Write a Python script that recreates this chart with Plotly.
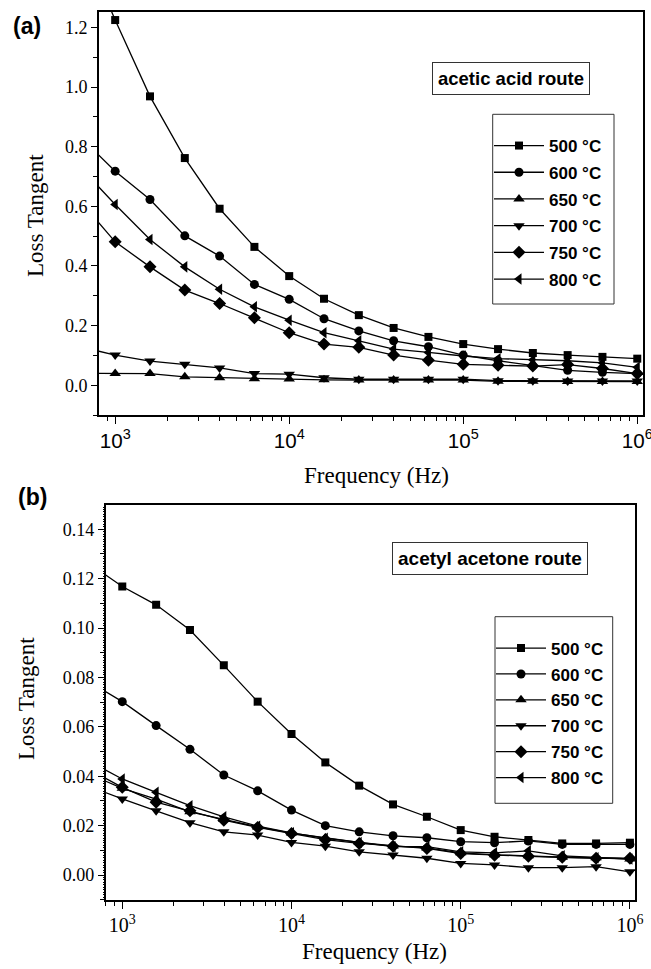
import plotly.graph_objects as go

W, H = 651, 969

freq = [631, 1000, 1585, 2512, 3981, 6310, 10000, 15849, 25119, 39811, 63096,
        100000, 158489, 251189, 398107, 630957, 1000000]

labels = ["500 °C", "600 °C", "650 °C", "700 °C", "750 °C", "800 °C"]
symbols = ["square", "circle", "triangle-up", "triangle-down", "diamond", "triangle-left"]
msizes = [8, 9, 10, 10, 10, 10]

# (a) acetic acid route
a500 = [1.50, 1.225, 0.969, 0.762, 0.592, 0.464, 0.366, 0.290, 0.235, 0.192, 0.162, 0.138, 0.121, 0.108, 0.101, 0.095, 0.089]
a600 = [0.832, 0.718, 0.623, 0.501, 0.433, 0.338, 0.288, 0.223, 0.182, 0.149, 0.129, 0.101, 0.082, 0.065, 0.050, 0.043, 0.039]
a650 = [0.040, 0.039, 0.039, 0.028, 0.025, 0.022, 0.021, 0.018, 0.017, 0.017, 0.017, 0.017, 0.013, 0.013, 0.012, 0.012, 0.012]
a700 = [0.129, 0.101, 0.081, 0.070, 0.058, 0.039, 0.037, 0.025, 0.020, 0.020, 0.020, 0.020, 0.015, 0.015, 0.014, 0.014, 0.014]
a750 = [0.617, 0.481, 0.397, 0.319, 0.274, 0.226, 0.176, 0.138, 0.127, 0.101, 0.084, 0.070, 0.067, 0.064, 0.069, 0.056, 0.039]
a800 = [0.731, 0.606, 0.489, 0.397, 0.322, 0.263, 0.218, 0.176, 0.149, 0.121, 0.110, 0.098, 0.089, 0.085, 0.082, 0.075, 0.060]

# (b) acetyl acetone route
b500 = [0.1264, 0.1168, 0.1094, 0.0992, 0.0849, 0.0702, 0.0571, 0.0456, 0.0362, 0.0286, 0.0236, 0.0182, 0.0155, 0.0142, 0.0128, 0.0128, 0.0131]
b600 = [0.0784, 0.0702, 0.0605, 0.0509, 0.0405, 0.0341, 0.0263, 0.0200, 0.0175, 0.0159, 0.0151, 0.0135, 0.0131, 0.0138, 0.0124, 0.0124, 0.0124]
b650 = [0.0410, 0.0351, 0.0307, 0.0256, 0.0225, 0.0195, 0.0170, 0.0150, 0.0132, 0.0118, 0.0110, 0.0090, 0.0082, 0.0078, 0.0072, 0.0070, 0.0065]
b700 = [0.0360, 0.0308, 0.0260, 0.0212, 0.0175, 0.0162, 0.0132, 0.0117, 0.0094, 0.0081, 0.0068, 0.0047, 0.0041, 0.0030, 0.0030, 0.0034, 0.0013]
b750 = [0.0430, 0.0355, 0.0295, 0.0260, 0.0222, 0.0193, 0.0168, 0.0143, 0.0128, 0.0117, 0.0108, 0.0087, 0.0080, 0.0076, 0.0072, 0.0068, 0.0068]
b800 = [0.0462, 0.0389, 0.0335, 0.0281, 0.0236, 0.0198, 0.0171, 0.0149, 0.0132, 0.0115, 0.0115, 0.0094, 0.0090, 0.0098, 0.0078, 0.0070, 0.0065]

series_a = [a500, a600, a650, a700, a750, a800]
series_b = [b500, b600, b650, b700, b750, b800]

# minor tick positions on the log frequency axis (2..9 x each decade)
minor_x = [m * 10 ** e for e in range(2, 7) for m in range(2, 10)]

XR_A = [2.907, 6.033]
XR_B = [2.902, 6.030]
YR_A = [-0.1, 1.252]
YR_B = [-0.0101, 0.1497]


def px(x):
    return x / W


def py(y):
    return 1 - y / H


fig = go.Figure()
for i, ys in enumerate(series_a):
    fig.add_trace(go.Scatter(
        x=freq, y=ys, name=labels[i], mode="lines+markers",
        line=dict(color="black", width=1.3),
        marker=dict(symbol=symbols[i], size=msizes[i], color="black"),
        xaxis="x", yaxis="y", legend="legend", legendgroup="a%d" % i))
for i, ys in enumerate(series_b):
    fig.add_trace(go.Scatter(
        x=freq, y=ys, name=labels[i], mode="lines+markers",
        line=dict(color="black", width=1.3),
        marker=dict(symbol=symbols[i], size=msizes[i], color="black"),
        xaxis="x2", yaxis="y2", legend="legend2", legendgroup="b%d" % i))

# invisible helper traces so the overlay tick-only axes get drawn
for xa, ya in [("x3", "y"), ("x4", "y2"), ("x2", "y3")]:
    fig.add_trace(go.Scatter(x=[1000], y=[0], xaxis=xa, yaxis=ya, mode="markers",
                             marker=dict(opacity=0), showlegend=False, hoverinfo="skip"))

serif = "Liberation Serif, Times New Roman, serif"
sans = "Liberation Sans, Arial, sans-serif"

common_x = dict(type="log", dtick=1, exponentformat="power", showline=True,
                linecolor="black", linewidth=1.6, mirror=True, ticks="outside",
                ticklen=7, tickwidth=1.4, tickcolor="black", showgrid=False,
                zeroline=False, automargin=False, ticklabeloverflow="allow")
minor_axis = dict(type="log", tickmode="array", tickvals=minor_x, showticklabels=False,
                  ticks="outside", ticklen=4.5, tickwidth=1.3, tickcolor="black",
                  showline=False, showgrid=False, zeroline=False, automargin=False,
                  side="bottom")
common_y = dict(showline=True, linecolor="black", linewidth=1.6, mirror=True,
                ticks="outside", ticklen=6, tickwidth=1.4, tickcolor="black",
                showgrid=False, zeroline=False, automargin=False,
                ticklabeloverflow="allow",
                tickfont=dict(family=serif, size=18, color="black"))

fig.update_layout(
    width=W, height=H, margin=dict(l=0, r=0, t=0, b=0),
    paper_bgcolor="white", plot_bgcolor="white",
    xaxis=dict(common_x, domain=[px(99), px(643)], range=XR_A, anchor="y",
               tickfont=dict(family=sans, size=16.5, color="black")),
    xaxis3=dict(minor_axis, domain=[px(99), px(643)], range=XR_A, anchor="y",
                overlaying="x"),
    yaxis=dict(common_y, domain=[py(415), py(12)], range=YR_A, anchor="x",
               dtick=0.2, tick0=0, tickformat=".1f",
               minor=dict(ticks="outside", ticklen=4, tickwidth=1.3, tickcolor="black",
                          dtick=0.1, tick0=0, showgrid=False)),
    xaxis2=dict(common_x, domain=[px(105.7), px(635)], range=XR_B, anchor="y2",
                tickfont=dict(family=serif, size=16, color="black")),
    xaxis4=dict(minor_axis, domain=[px(105.7), px(635)], range=XR_B, anchor="y2",
                overlaying="x2"),
    yaxis2=dict(common_y, domain=[py(900), py(505.3)], range=YR_B, anchor="x2",
                dtick=0.02, tick0=0, tickformat=".2f",
                minor=dict(ticks="outside", ticklen=4, tickwidth=1.3, tickcolor="black",
                           dtick=0.01, tick0=0, showgrid=False)),
    yaxis3=dict(domain=[py(900), py(505.3)], range=YR_B, anchor="x2",
                overlaying="y2", side="left", showline=False, showgrid=False,
                zeroline=False, showticklabels=False, ticks="outside", ticklen=2,
                tickwidth=1, tickcolor="black", dtick=0.001, tick0=0, automargin=False),
    showlegend=True,
    legend=dict(x=px(489), y=py(128), xanchor="left", yanchor="top",
                bgcolor="rgba(0,0,0,0)", borderwidth=0, itemwidth=50,
                tracegroupgap=1.6, traceorder="grouped",
                font=dict(family=sans, size=17, color="black", weight="bold")),
    legend2=dict(x=px(491), y=py(630.5), xanchor="left", yanchor="top",
                 bgcolor="rgba(0,0,0,0)", borderwidth=0, itemwidth=50,
                 tracegroupgap=0.8, traceorder="grouped",
                 font=dict(family=sans, size=17, color="black", weight="bold")),
)

shapes = [
    dict(type="rect", xref="paper", yref="paper", x0=px(492.7), x1=px(614),
         y0=py(304), y1=py(114.3), line=dict(color="#333", width=1)),
    dict(type="rect", xref="paper", yref="paper", x0=px(495), x1=px(612.7),
         y0=py(803.3), y1=py(616.7), line=dict(color="#333", width=1)),
]
fig.update_layout(shapes=shapes)


def note(text, x, y, size, family, bold=False, angle=0, box=False):
    d = dict(text=text, x=px(x), y=py(y), xref="paper", yref="paper",
             xanchor="center", yanchor="middle", showarrow=False, textangle=angle,
             font=dict(family=family, size=size, color="black",
                       weight="bold" if bold else "normal"))
    if box:
        d.update(bordercolor="#333", borderwidth=1, borderpad=5, bgcolor="white")
    return d


ann = [
    note("acetic acid route", 511, 78, 18.5, sans, bold=True, box=True),
    note("acetyl acetone route", 489.7, 558.6, 19, sans, bold=True, box=True),
    note("(a)", 27, 26, 23, sans, bold=True),
    note("(b)", 32, 497, 23, sans, bold=True),
    note("Loss Tangent", 35, 216, 23, serif, angle=-90),
    note("Loss Tangent", 26, 699, 23, serif, angle=-90),
    note("Frequency (Hz)", 376, 475, 23, serif),
    note("Frequency (Hz)", 374, 951, 23, serif),
]
fig.update_layout(annotations=ann)

fig.write_html("out.html")
